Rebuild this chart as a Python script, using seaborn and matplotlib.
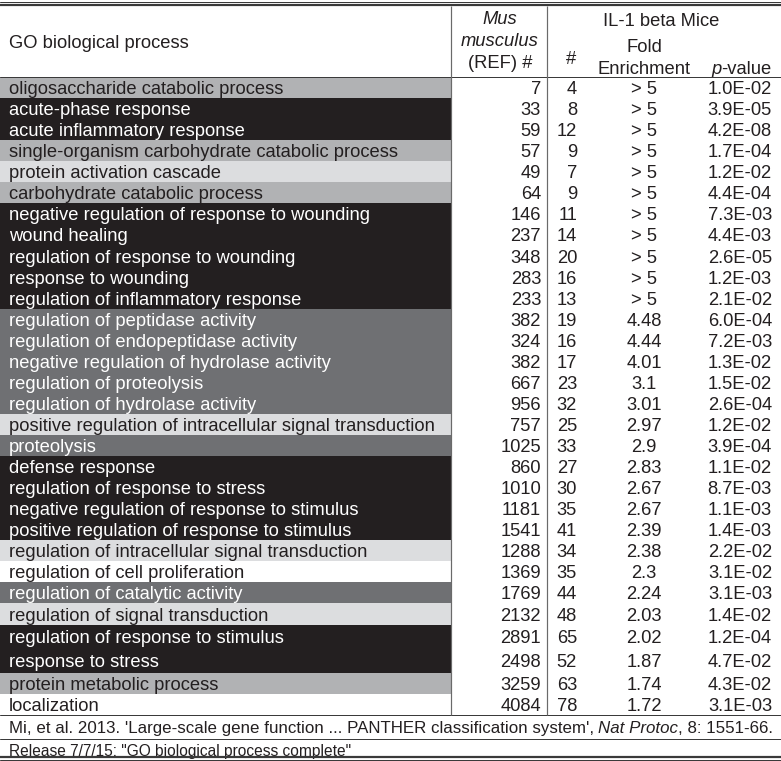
import matplotlib
matplotlib.use("Agg")
import matplotlib.pyplot as plt
from matplotlib import font_manager
import seaborn as sns

# ---------------- data ----------------
processes = [
    "oligosaccharide catabolic process",
    "acute-phase response",
    "acute inflammatory response",
    "single-organism carbohydrate catabolic process",
    "protein activation cascade",
    "carbohydrate catabolic process",
    "negative regulation of response to wounding",
    "wound healing",
    "regulation of response to wounding",
    "response to wounding",
    "regulation of inflammatory response",
    "regulation of peptidase activity",
    "regulation of endopeptidase activity",
    "negative regulation of hydrolase activity",
    "regulation of proteolysis",
    "regulation of hydrolase activity",
    "positive regulation of intracellular signal transduction",
    "proteolysis",
    "defense response",
    "regulation of response to stress",
    "negative regulation of response to stimulus",
    "positive regulation of response to stimulus",
    "regulation of intracellular signal transduction",
    "regulation of cell proliferation",
    "regulation of catalytic activity",
    "regulation of signal transduction",
    "regulation of response to stimulus",
    "response to stress",
    "protein metabolic process",
    "localization",
]
ref_counts = [7, 33, 59, 57, 49, 64, 146, 237, 348, 283, 233, 382, 324, 382, 667,
              956, 757, 1025, 860, 1010, 1181, 1541, 1288, 1369, 1769, 2132, 2891,
              2498, 3259, 4084]
mice_counts = [4, 8, 12, 9, 7, 9, 11, 14, 20, 16, 13, 19, 16, 17, 23, 32, 25, 33,
               27, 30, 35, 41, 34, 35, 44, 48, 65, 52, 63, 78]
fold_enrichment = ["> 5"] * 11 + ["4.48", "4.44", "4.01", "3.1", "3.01", "2.97",
                                  "2.9", "2.83", "2.67", "2.67", "2.39", "2.38",
                                  "2.3", "2.24", "2.03", "2.02", "1.87", "1.74", "1.72"]
p_values = ["1.0E-02", "3.9E-05", "4.2E-08", "1.7E-04", "1.2E-02", "4.4E-04",
            "7.3E-03", "4.4E-03", "2.6E-05", "1.2E-03", "2.1E-02", "6.0E-04",
            "7.2E-03", "1.3E-02", "1.5E-02", "2.6E-04", "1.2E-02", "3.9E-04",
            "1.1E-02", "8.7E-03", "1.1E-03", "1.4E-03", "2.2E-02", "3.1E-02",
            "3.1E-03", "1.4E-02", "1.2E-04", "4.7E-02", "4.3E-02", "3.1E-03"]
# shading group of each process row
shade_groups = ["B", "K", "K", "B", "L", "B", "K", "K", "K", "K", "K",
                "D", "D", "D", "D", "D", "L", "D", "K", "K", "K", "K",
                "L", "W", "D", "L", "K", "K", "B", "W"]
footnote_1 = ["Mi, et al. 2013. 'Large-scale gene function ... PANTHER classification system', ",
              "Nat Protoc", ", 8: 1551-66."]
footnote_2 = "Release 7/7/15; \"GO biological process complete\""

# ---------------- style ----------------
sns.set_theme(style="white")
plt.rcParams["font.family"] = ["Liberation Sans", "DejaVu Sans"]

try:
    font_manager.findfont(font_manager.FontProperties(family="Liberation Sans Narrow"),
                          fallback_to_default=False)
    NARROW = ["Liberation Sans Narrow", "Liberation Sans", "DejaVu Sans"]
except Exception:
    NARROW = ["Liberation Sans", "DejaVu Sans"]

INK = "#231f20"
fill = {"K": "#231f20", "D": "#6f7073", "B": "#b1b2b4", "L": "#dcdddf", "W": "#ffffff"}
text_col = {"K": "white", "D": "white", "B": INK, "L": INK, "W": INK}

W, H = 781, 761
fig = plt.figure(figsize=(W / 100, H / 100), dpi=100)
ax = fig.add_axes([0, 0, 1, 1])
ax.set_xlim(0, W)
ax.set_ylim(H, 0)
ax.axis("off")

FS = 13.2  # pt
PX = 0.72  # 1 px in points
DY = 2.0   # vertical text nudge

# row geometry
top0, h = 77.0, 21.06
tops, heights = [], []
y = top0
for i in range(len(processes)):
    hh = 24.2 if i in (26, 27) else (21.0 if i >= 28 else h)
    tops.append(y)
    heights.append(hh)
    y += hh
centers = [t + hh / 2 for t, hh in zip(tops, heights)]

ax.barh(centers, [451] * len(processes), height=heights, left=0,
        color=[fill[g] for g in shade_groups], edgecolor="none", zorder=1)

for i, name in enumerate(processes):
    c = centers[i] + DY
    tc = text_col[shade_groups[i]]
    ax.text(9, c, name, fontsize=FS, color=tc, va="center", ha="left", zorder=3)
    ax.text(541, c, str(ref_counts[i]), fontsize=FS, color=INK, va="center", ha="right", zorder=3)
    ax.text(577, c, str(mice_counts[i]), fontsize=FS, color=INK, va="center", ha="right", zorder=3)
    ax.text(644, c, fold_enrichment[i], fontsize=FS, color=INK, va="center", ha="center", zorder=3)
    ax.text(772, c, p_values[i], fontsize=FS, color=INK, va="center", ha="right", zorder=3)

# header
ax.text(9, 42 + DY, "GO biological process", fontsize=FS, color=INK, va="center", ha="left")
ax.text(500, 18 + DY, "Mus", fontsize=FS, color=INK, va="center", ha="center", style="italic")
ax.text(500, 40 + DY, "musculus", fontsize=FS, color=INK, va="center", ha="center", style="italic")
ax.text(500, 62 + DY, "(REF) #", fontsize=FS, color=INK, va="center", ha="center")
ax.text(661, 19 + DY, "IL-1 beta Mice", fontsize=FS, color=INK, va="center", ha="center")
ax.text(571, 57 + DY, "#", fontsize=FS, color=INK, va="center", ha="center")
ax.text(644, 46 + DY, "Fold", fontsize=FS, color=INK, va="center", ha="center")
ax.text(644, 67 + DY, "Enrichment", fontsize=FS, color=INK, va="center", ha="center")
tp = ax.text(711, 67 + DY, "p", fontsize=FS, color=INK, va="center", ha="left", style="italic")
fig.canvas.draw()
r = fig.canvas.get_renderer()
bb = tp.get_window_extent(r)
ax.text(711 + bb.width, 67 + DY, "-value", fontsize=FS, color=INK, va="center", ha="left")

# footnotes: narrow face, scaled gently to the reference width
def lay_out(pieces, x0, yc, fs, italic_idx, target):
    objs = []
    for k, piece in enumerate(pieces):
        t = ax.text(0, yc, piece, fontsize=fs, color=INK, va="center", ha="left",
                    family=NARROW, style="italic" if k in italic_idx else "normal")
        objs.append(t)
    fig.canvas.draw()
    widths = [t.get_window_extent(r).width for t in objs]
    scale = min(1.08, max(0.8, target / sum(widths)))
    fx = x0
    for t, w in zip(objs, widths):
        t.set_fontsize(fs * scale)
        t.set_x(fx)
        fx += w * scale

lay_out(footnote_1, 9.0, 728.5, FS, {1}, target=764.0)
lay_out([footnote_2], 9.0, 751.5, FS, set(), target=344.0)

# rules
lc = "#3a3a3a"
ax.axhline(1.5, color=lc, lw=1.0 * PX, zorder=4)
ax.axhline(4.5, color=lc, lw=2.2 * PX, zorder=4)
ax.axhline(77, color=lc, lw=1.0 * PX, zorder=4)
ax.axhline(715, color=lc, lw=1.0 * PX, zorder=4)
ax.axhline(739, color=lc, lw=1.0 * PX, zorder=4)
ax.axhline(756.5, color=lc, lw=2.2 * PX, zorder=4)
ax.axhline(759.8, color=lc, lw=1.0 * PX, zorder=4)
ax.vlines([451, 547], 5.5, 715, color="#6a6a6a", lw=1.2 * PX, zorder=4)

fig.savefig("out.png", dpi=100)
